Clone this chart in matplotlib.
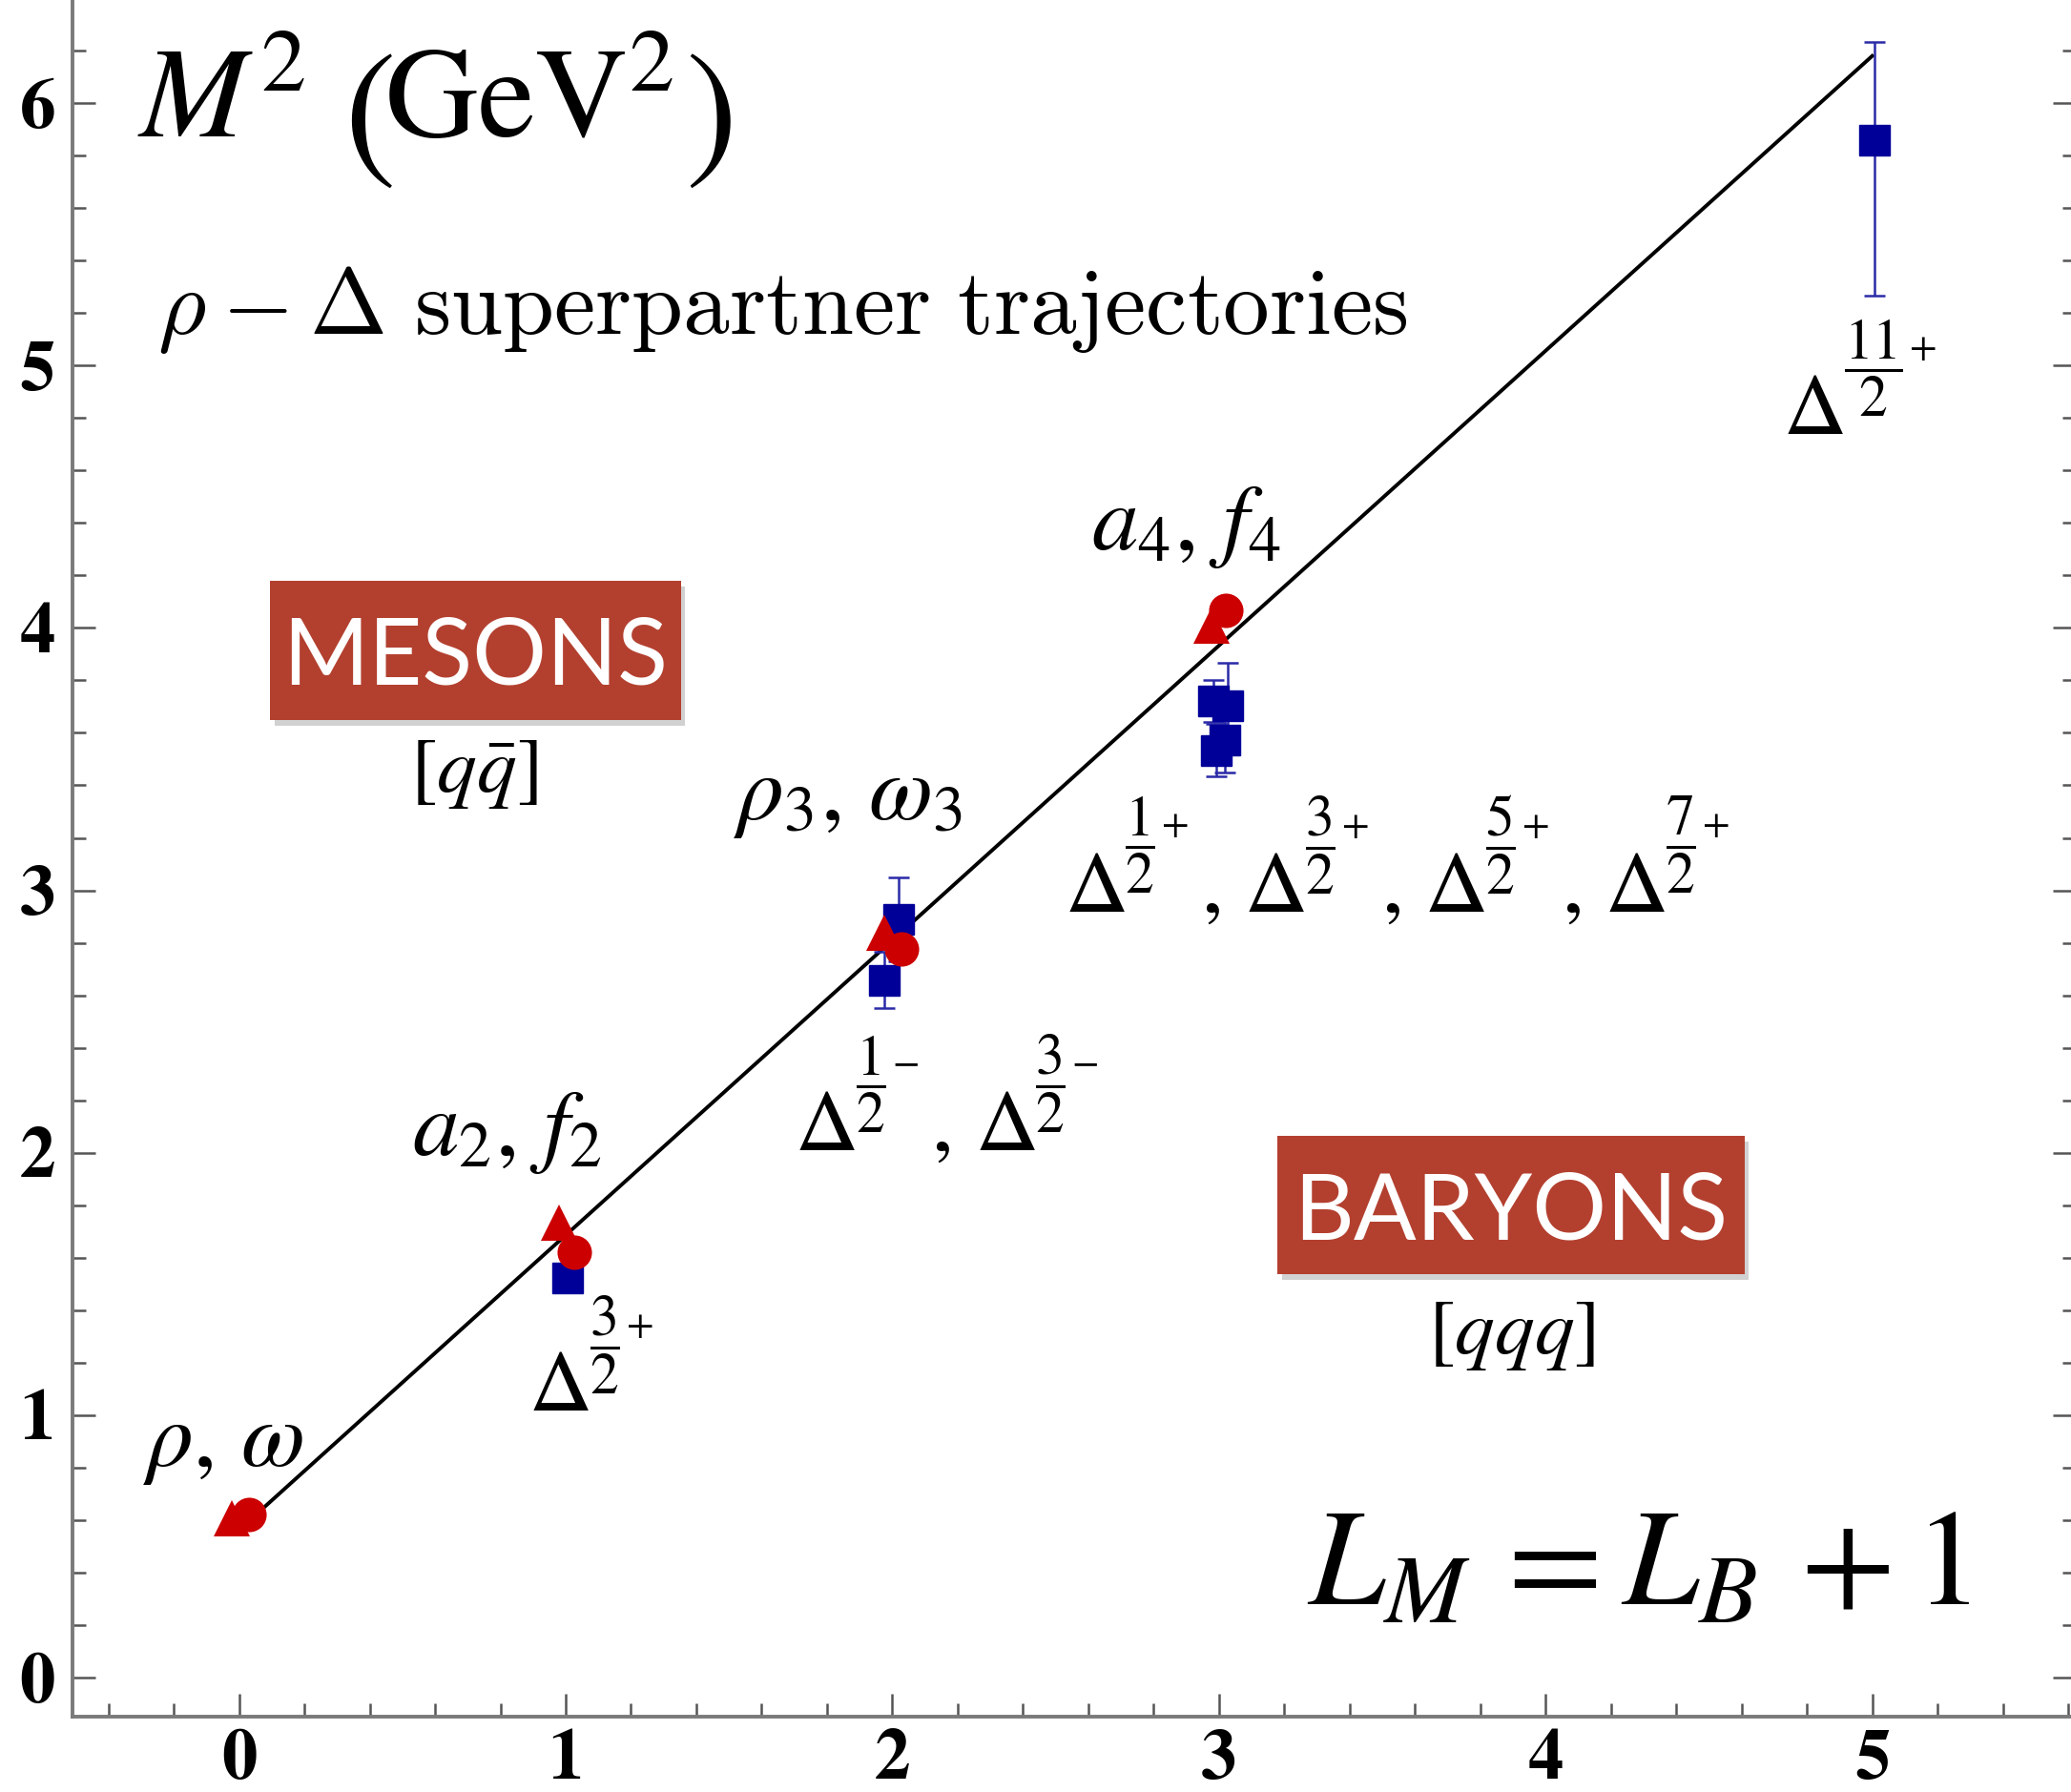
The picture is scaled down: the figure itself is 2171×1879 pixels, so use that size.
import matplotlib
matplotlib.use("Agg")
import matplotlib.pyplot as plt
from matplotlib.patches import Rectangle
from matplotlib.ticker import MultipleLocator

plt.rcParams['mathtext.fontset'] = 'stix'
plt.rcParams['font.family'] = 'STIXGeneral'

# trajectory M^2 = 4 kappa^2 (L + 1/2), kappa ~ 0.53 GeV
line_L = [0, 5]
line_M2 = [0.562, 6.18]

# mesons (red): triangles = rho, a2, rho3, a4 ; circles = omega, f2, omega3, f4
tri_L = [-0.022, 0.98, 1.976, 2.978]
tri_M2 = [0.606, 1.733, 2.84, 4.008]
circ_L = [0.031, 1.027, 2.029, 3.022]
circ_M2 = [0.622, 1.621, 2.775, 4.066]

# baryons (blue squares): Delta states with errors on M^2
sq_L = [1.007, 1.976, 2.02, 2.983, 2.992, 3.027, 3.017, 5.006]
sq_M2 = [1.521, 2.657, 2.89, 3.72, 3.533, 3.703, 3.574, 5.859]
sq_err_lo = [0.0, 0.107, 0.16, 0.08, 0.10, 0.165, 0.126, 0.591]
sq_err_hi = [0.0, 0.107, 0.16, 0.08, 0.10, 0.165, 0.126, 0.376]

# Delta labels: (numerator of J, parity)
delta_L1 = [('3', '+')]
delta_L2 = [('1', '-'), ('3', '-')]
delta_L3 = [('1', '+'), ('3', '+'), ('5', '+'), ('7', '+')]
delta_L5 = [('11', '+')]

xticks = [0, 1, 2, 3, 4, 5]
yticks = [0, 1, 2, 3, 4, 5, 6]

fig = plt.figure(figsize=(21.71, 18.79), dpi=100)
ax = fig.add_axes([0.035, 0.042, 0.9671, 0.9736])
ax.set_xlim(-0.51, 5.622)
ax.set_ylim(-0.15, 6.5)

ax.plot(line_L, line_M2, color='black', lw=2.8, zorder=1)
ax.errorbar(sq_L, sq_M2, yerr=[sq_err_lo, sq_err_hi], fmt='s', color='#000099',
            ms=23.5, ecolor='#2a2aa8', elinewidth=1.8, capsize=8, capthick=1.8, zorder=2)
ax.plot(tri_L, tri_M2, '^', color='#cc0000', ms=27, mew=0, zorder=3)
ax.plot(circ_L, circ_M2, 'o', color='#cc0000', ms=26, mew=0, zorder=3)

# frame
for s in ['left', 'bottom']:
    ax.spines[s].set_color('#7a7a7a')
    ax.spines[s].set_linewidth(2.8)
for s in ['top', 'right']:
    ax.spines[s].set_visible(False)
ax.set_xticks(xticks)
ax.set_yticks(yticks)
ax.xaxis.set_minor_locator(MultipleLocator(0.2))
ax.yaxis.set_minor_locator(MultipleLocator(0.2))
ax.tick_params(which='both', direction='in', right=True, top=False, color='#555555', width=1.8)
ax.tick_params(which='major', length=17)
ax.tick_params(which='minor', length=10)
ax.tick_params(axis='x', pad=10)
ax.tick_params(axis='y', pad=13)
for lab in ax.get_xticklabels() + ax.get_yticklabels():
    lab.set_fontsize(54)
    lab.set_fontweight('bold')

# title pieces
ax.text(-0.31, 5.87, r'$M^2$', fontsize=97)
ax.text(0.32, 5.783, '(', fontsize=118)
ax.text(0.445, 5.87, r'$\mathrm{GeV}^2$', fontsize=97)
ax.text(1.365, 5.783, ')', fontsize=118)

ax.text(-0.25, 5.12, r'$\rho - \Delta\ \mathrm{superpartner\ trajectories}$',
        fontsize=70, math_fontfamily='cm')
ax.text(3.27, 0.278, r'$L_M\,= L_B\,+ 1$', fontsize=104)

ax.text(-0.295, 0.805, r'$\rho,\,\omega$', fontsize=70)
ax.text(0.529, 1.99, r'$a_2,\,f_2$', fontsize=70)
ax.text(1.515, 3.27, r'$\rho_3,\,\omega_3$', fontsize=70)
ax.text(2.608, 4.30, r'$a_4,\,f_4$', fontsize=70)


def delta_label(x, y, states):
    # Delta with a J^P fraction, as in the original figure
    for i, (num, sign) in enumerate(states):
        dx = i * 136
        ax.annotate(r'$\Delta$', (x, y), xytext=(dx, 0), textcoords='offset points',
                    fontsize=66, va='baseline')
        ax.annotate(r'$\dfrac{%s}{2}^{%s}$' % (num, sign), (x, y), xytext=(dx + 46, 50),
                    textcoords='offset points', fontsize=43, va='center')
        if i < len(states) - 1:
            ax.annotate(',', (x, y), xytext=(dx + 104, 0), textcoords='offset points',
                        fontsize=66, va='baseline')


delta_label(0.885, 1.016, delta_L1)
delta_label(1.70, 2.01, delta_L2)
delta_label(2.526, 2.92, delta_L3)
delta_label(4.726, 4.74, delta_L5)

box_color = '#b3402f'
for (x0, x1, y0, y1), name, base in [((0.096, 1.352, 3.648, 4.178), 'MESONS', 3.786),
                                      ((3.18, 4.609, 1.536, 2.063), 'BARYONS', 1.671)]:
    ax.add_patch(Rectangle((x0 + 0.012, y0 - 0.02), x1 - x0, y1 - y0, color='black',
                           alpha=0.18, lw=0, zorder=4))
    ax.add_patch(Rectangle((x0, y0), x1 - x0, y1 - y0, color=box_color, lw=0, zorder=5))
    ax.text((x0 + x1) / 2, base, name, color='white', fontsize=70, family='Lato',
            ha='center', va='baseline', zorder=6)

ax.text(0.72, 3.44, r'$[q\bar{q}]$', fontsize=60, ha='center', va='center')
ax.text(3.896, 1.30, r'$[qqq]$', fontsize=60, ha='center', va='center')

fig.savefig('out.png', dpi=100)
